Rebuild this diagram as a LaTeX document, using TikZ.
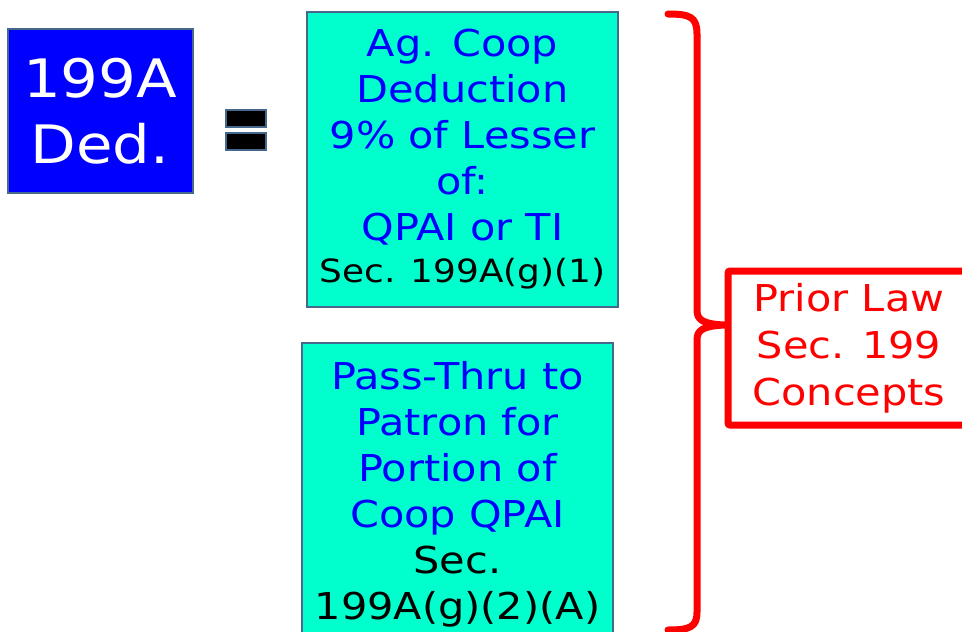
\documentclass[tikz,border=0pt]{standalone}
\usepackage{fontspec}
\setmainfont[FakeStretch=1.12]{DejaVu Sans}
\definecolor{edgegray}{RGB}{70,104,140}
\definecolor{coopfill}{RGB}{0,255,204}
\definecolor{dedblue}{RGB}{0,0,255}
\definecolor{lawred}{RGB}{255,0,0}

\begin{document}
\begin{tikzpicture}[x=1pt, y=-1pt,
					box/.style={draw=edgegray, line width=2pt, inner sep=0pt, outer sep=0pt, align=center},
					bluetext/.style={font=\fontsize{37}{46}\selectfont, text=dedblue},
					eqbar/.style={draw=edgegray, line width=2pt, fill=black},
					brace/.style={draw=lawred, line width=7pt, line cap=round, line join=round}]
	\path[use as bounding box, clip] (0,0) rectangle (962,632);
	\node[box, fill=dedblue, minimum width=185pt, minimum height=164pt, text=white,
		font=\fontsize{53}{66}\selectfont] (ded) at (100,111) {199A\\Ded.};
	\draw[eqbar] (226,110) rectangle (266,127);
	\draw[eqbar] (226,133) rectangle (266,150);
	\node[box, fill=coopfill, minimum width=311pt, minimum height=295pt, bluetext] (coop) at (462.5,159.5)
		{Ag. Coop\\Deduction\\9\% of Lesser\\of:\\QPAI or TI\\[-4pt]{\color{black}\fontsize{32}{46}\selectfont Sec. 199A(g)(1)}};
	\node[box, fill=coopfill, minimum width=311pt, minimum height=302pt, bluetext] (pass) at (457.5,494)
		{Pass-Thru to\\Patron for\\Portion of\\Coop QPAI\\{\color{black}Sec.}\\{\color{black}199A(g)(2)(A)}};
	\node[draw=lawred, line width=7pt, rounded corners=2pt, minimum width=242pt, minimum height=154pt,
		inner sep=0pt, align=center, text=lawred, font=\fontsize{37}{47}\selectfont] (law) at (849,348)
		{Prior Law\\Sec. 199\\Concepts};
	\coordinate (tip) at ([yshift=23pt]law.west);
	\draw[brace] (668,14) .. controls (690,14) and (697,17) .. (697,34) -- (697,310)
		.. controls (697,320) and (703,324) .. (tip)
		.. controls (703,326) and (697,330) .. (697,340) -- (697,612)
		.. controls (697,627) and (690,630) .. (668,630);
\end{tikzpicture}
\end{document}
